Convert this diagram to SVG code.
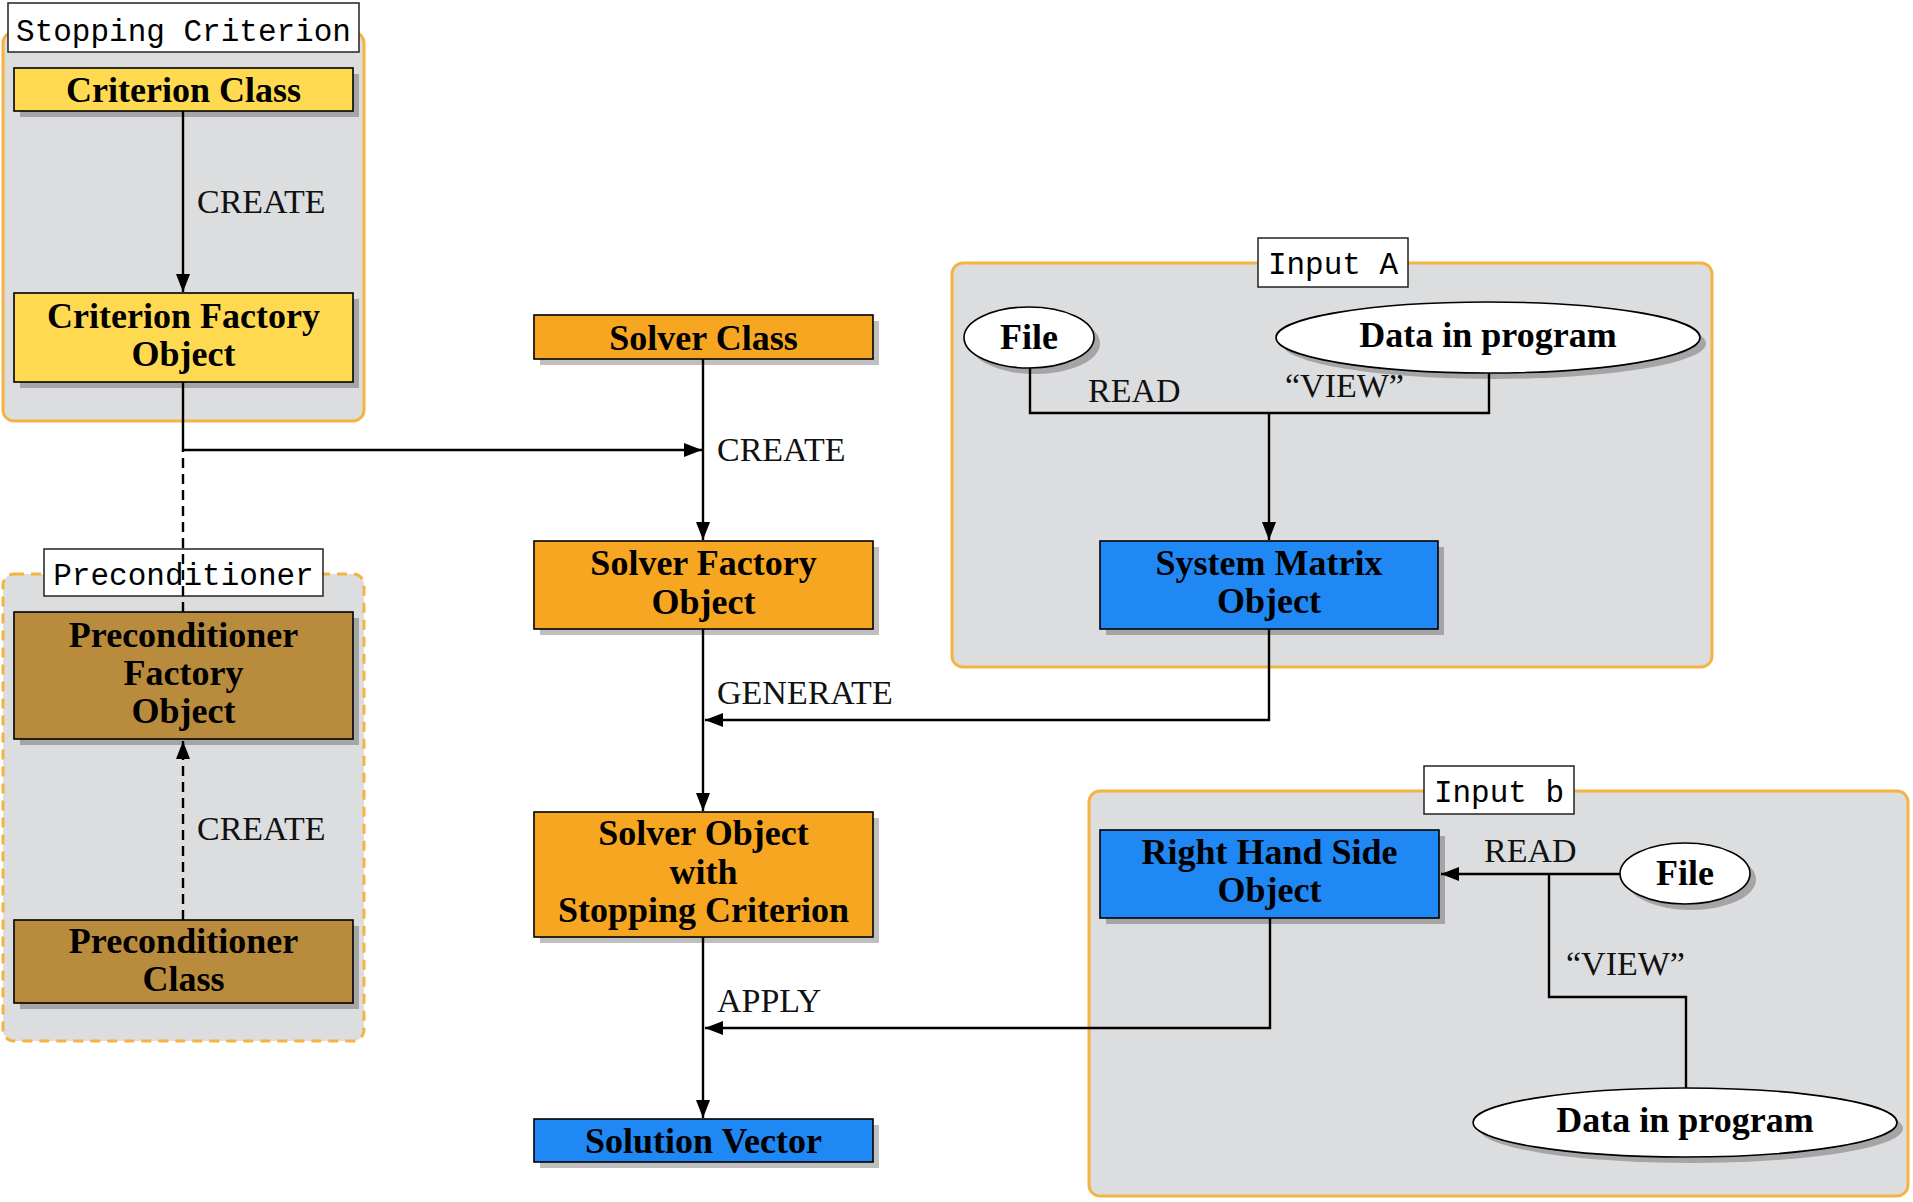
<svg xmlns="http://www.w3.org/2000/svg" width="1913" height="1202" viewBox="0 0 1913 1202">
<defs>
<style>
.grp{fill:#dcdddf;stroke:#f5b342;stroke-width:3}
.grpd{fill:#dcdddf;stroke:#f5b342;stroke-width:3;stroke-dasharray:10 7}
.glab{fill:#fff;stroke:#222;stroke-width:1.5}
.gt{font-family:"Liberation Mono",monospace;font-size:31px;fill:#000;text-anchor:middle}
.sh{fill:#000;fill-opacity:0.25}
.box{stroke:#000;stroke-width:1.6}
.yel{fill:#ffd94f}
.ora{fill:#f6a620}
.bro{fill:#b98b3c}
.blu{fill:#2088f4}
.ell{fill:#fff;stroke:#000;stroke-width:1.6}
.nt{font-family:"Liberation Serif",serif;font-weight:bold;font-size:36px;fill:#000;text-anchor:middle}
.lt{font-family:"Liberation Serif",serif;font-size:34px;fill:#111}
.c{fill:none;stroke:#000;stroke-width:2.4}
.cd{fill:none;stroke:#000;stroke-width:2.4;stroke-dasharray:10 6}
</style>
<marker id="arr" markerUnits="userSpaceOnUse" markerWidth="20" markerHeight="16" viewBox="0 0 20 16" refX="18" refY="8" orient="auto">
<path d="M0,1 L18,8 L0,15 Z" fill="#000"/>
</marker>
</defs>
<rect width="1913" height="1202" fill="#fff"/>

<g id="group-stopping">
<rect class="grp" x="3" y="32" width="361" height="389" rx="11"/>
<rect class="glab" x="8" y="3" width="351" height="49"/>
<text class="gt" x="183.5" y="41">Stopping Criterion</text>
</g>
<g id="group-precond">
<rect class="grpd" x="3" y="574" width="361" height="467" rx="11"/>
<rect class="glab" x="44" y="549" width="279" height="47"/>
<text class="gt" x="183.5" y="585">Preconditioner</text>
</g>
<g id="group-inputA">
<rect class="grp" x="952" y="263" width="760" height="404" rx="11"/>
<rect class="glab" x="1258" y="238" width="150" height="49"/>
<text class="gt" x="1333" y="274">Input A</text>
</g>
<g id="group-inputb">
<rect class="grp" x="1089" y="791" width="819" height="405" rx="11"/>
<rect class="glab" x="1424" y="766" width="150" height="48"/>
<text class="gt" x="1499" y="802">Input b</text>
</g>

<g id="criterion-class">
<rect class="sh" x="20" y="74" width="339" height="43"/>
<rect class="box yel" x="14" y="68" width="339" height="43"/>
<text class="nt" x="183.5" y="102">Criterion Class</text>
</g>
<g id="criterion-factory">
<rect class="sh" x="20" y="299" width="339" height="89"/>
<rect class="box yel" x="14" y="293" width="339" height="89"/>
<text class="nt" x="183.5" y="328">Criterion Factory</text>
<text class="nt" x="183.5" y="366">Object</text>
</g>
<g id="precond-factory">
<rect class="sh" x="20" y="618" width="339" height="127"/>
<rect class="box bro" x="14" y="612" width="339" height="127"/>
<text class="nt" x="183.5" y="647">Preconditioner</text>
<text class="nt" x="183.5" y="685">Factory</text>
<text class="nt" x="183.5" y="723">Object</text>
</g>
<g id="precond-class">
<rect class="sh" x="20" y="926" width="339" height="83"/>
<rect class="box bro" x="14" y="920" width="339" height="83"/>
<text class="nt" x="183.5" y="953">Preconditioner</text>
<text class="nt" x="183.5" y="991">Class</text>
</g>
<g id="solver-class">
<rect class="sh" x="540" y="321" width="339" height="44"/>
<rect class="box ora" x="534" y="315" width="339" height="44"/>
<text class="nt" x="703.5" y="350">Solver Class</text>
</g>
<g id="solver-factory">
<rect class="sh" x="540" y="547" width="339" height="88"/>
<rect class="box ora" x="534" y="541" width="339" height="88"/>
<text class="nt" x="703.5" y="575">Solver Factory</text>
<text class="nt" x="703.5" y="614">Object</text>
</g>
<g id="solver-object">
<rect class="sh" x="540" y="818" width="339" height="125"/>
<rect class="box ora" x="534" y="812" width="339" height="125"/>
<text class="nt" x="703.5" y="845">Solver Object</text>
<text class="nt" x="703.5" y="884">with</text>
<text class="nt" x="703.5" y="922">Stopping Criterion</text>
</g>
<g id="solution-vector">
<rect class="sh" x="540" y="1125" width="339" height="43"/>
<rect class="box blu" x="534" y="1119" width="339" height="43"/>
<text class="nt" x="703.5" y="1153">Solution Vector</text>
</g>
<g id="system-matrix">
<rect class="sh" x="1106" y="547" width="338" height="88"/>
<rect class="box blu" x="1100" y="541" width="338" height="88"/>
<text class="nt" x="1269" y="575">System Matrix</text>
<text class="nt" x="1269" y="613">Object</text>
</g>
<g id="rhs">
<rect class="sh" x="1106" y="836" width="339" height="88"/>
<rect class="box blu" x="1100" y="830" width="339" height="88"/>
<text class="nt" x="1269.5" y="864">Right Hand Side</text>
<text class="nt" x="1269.5" y="902">Object</text>
</g>
<g id="file-A">
<ellipse class="sh" cx="1035" cy="343.5" rx="65" ry="30.5"/>
<ellipse class="ell" cx="1029" cy="337.5" rx="65" ry="30.5"/>
<text class="nt" x="1029" y="349">File</text>
</g>
<g id="data-A">
<ellipse class="sh" cx="1494" cy="343.5" rx="212" ry="35.5"/>
<ellipse class="ell" cx="1488" cy="337.5" rx="212" ry="35.5"/>
<text class="nt" x="1488" y="347">Data in program</text>
</g>
<g id="file-b">
<ellipse class="sh" cx="1691" cy="879.5" rx="65" ry="30.5"/>
<ellipse class="ell" cx="1685" cy="873.5" rx="65" ry="30.5"/>
<text class="nt" x="1685" y="885">File</text>
</g>
<g id="data-b">
<ellipse class="sh" cx="1691" cy="1128.5" rx="212" ry="34.5"/>
<ellipse class="ell" cx="1685" cy="1122.5" rx="212" ry="34.5"/>
<text class="nt" x="1685" y="1132">Data in program</text>
</g>

<g id="connectors">
<path class="c" d="M183,111 V292" marker-end="url(#arr)"/>
<path class="c" d="M183,382 V450 H702" marker-end="url(#arr)"/>
<path class="cd" d="M183,612 V450"/>
<path class="cd" d="M183,920 V741" marker-end="url(#arr)"/>
<path class="c" d="M703,359 V540" marker-end="url(#arr)"/>
<path class="c" d="M703,629 V811" marker-end="url(#arr)"/>
<path class="c" d="M1269,629 V720 H705" marker-end="url(#arr)"/>
<path class="c" d="M703,937 V1118" marker-end="url(#arr)"/>
<path class="c" d="M1270,918 V1028 H705" marker-end="url(#arr)"/>
<path class="c" d="M1030,368 V413 H1489 V373"/>
<path class="c" d="M1269,413 V540" marker-end="url(#arr)"/>
<path class="c" d="M1620,874 H1441" marker-end="url(#arr)"/>
<path class="c" d="M1686,1088 V997 H1549 V874"/>
<text class="lt" x="197" y="213">CREATE</text>
<text class="lt" x="197" y="840">CREATE</text>
<text class="lt" x="717" y="461">CREATE</text>
<text class="lt" x="717" y="704">GENERATE</text>
<text class="lt" x="717" y="1012">APPLY</text>
<text class="lt" x="1088" y="402">READ</text>
<text class="lt" x="1285" y="397">“VIEW”</text>
<text class="lt" x="1484" y="862">READ</text>
<text class="lt" x="1566" y="975">“VIEW”</text>
</g>
</svg>
